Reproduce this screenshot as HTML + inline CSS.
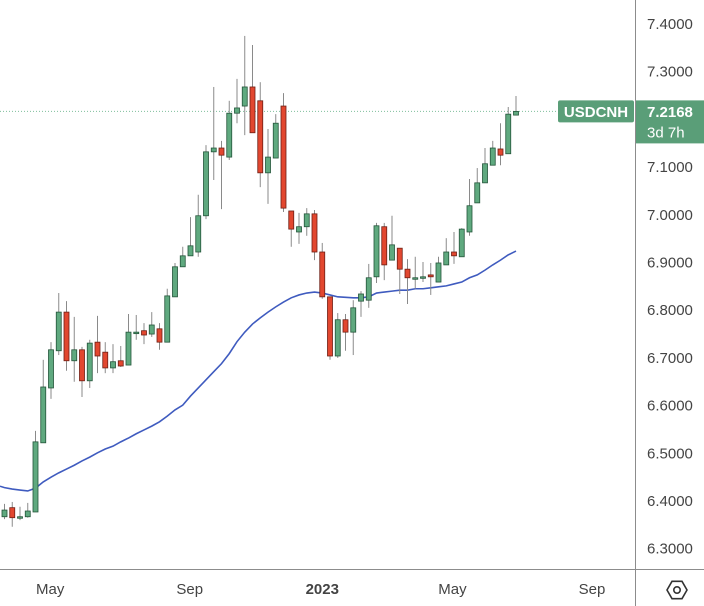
<!DOCTYPE html>
<html><head><meta charset="utf-8"><style>
html,body{margin:0;padding:0;background:#fff;}
svg{display:block;font-family:"Liberation Sans",sans-serif;}
</style></head><body>
<svg id="chart" width="704" height="606" viewBox="0 0 704 606" xmlns="http://www.w3.org/2000/svg">
<rect x="0" y="0" width="704" height="606" fill="#fff"/>
<g id="plot"></g>
<g id="yaxis"></g>
<g id="xaxis"></g>
</svg>
<script>
const opens  = [6.367,6.386,6.365,6.367,6.377,6.522,6.637,6.715,6.796,6.694,6.717,6.652,6.733,6.712,6.679,6.694,6.685,6.752,6.757,6.750,6.761,6.733,6.828,6.891,6.914,6.922,6.998,7.132,7.140,7.121,7.213,7.228,7.268,7.239,7.088,7.119,7.228,7.008,6.964,6.975,7.002,6.922,6.828,6.704,6.780,6.754,6.819,6.821,6.870,6.975,6.905,6.930,6.886,6.867,6.869,6.874,6.859,6.895,6.922,6.912,6.964,7.025,7.067,7.104,7.138,7.128,7.209];
const highs  = [6.394,6.398,6.388,6.396,6.547,6.696,6.733,6.836,6.819,6.786,6.723,6.738,6.788,6.733,6.729,6.725,6.792,6.790,6.773,6.796,6.773,6.845,6.899,6.933,6.995,7.042,7.146,7.268,7.155,7.239,7.285,7.375,7.356,7.278,7.180,7.211,7.255,7.008,7.004,7.014,7.010,6.941,6.828,6.794,6.792,6.821,6.840,6.897,6.983,6.983,6.998,6.930,6.907,6.912,6.901,6.899,6.912,6.951,6.964,6.972,7.075,7.098,7.140,7.155,7.192,7.226,7.249];
const lows   = [6.362,6.346,6.360,6.365,6.377,6.522,6.614,6.706,6.673,6.650,6.618,6.637,6.668,6.668,6.668,6.681,6.685,6.738,6.729,6.744,6.717,6.733,6.828,6.891,6.918,6.912,6.991,7.073,7.012,7.115,7.192,7.167,7.172,7.058,7.023,7.119,7.006,6.933,6.939,6.956,6.905,6.824,6.696,6.700,6.715,6.706,6.786,6.805,6.857,6.863,6.905,6.834,6.813,6.845,6.859,6.832,6.859,6.895,6.897,6.912,6.956,7.025,7.067,7.104,7.104,7.128,7.209];
const closes = [6.381,6.365,6.367,6.379,6.524,6.639,6.717,6.796,6.694,6.717,6.652,6.731,6.704,6.679,6.692,6.683,6.754,6.754,6.748,6.769,6.733,6.830,6.891,6.914,6.935,6.998,7.132,7.140,7.125,7.213,7.224,7.268,7.172,7.088,7.121,7.192,7.014,6.970,6.975,7.002,6.922,6.828,6.704,6.780,6.754,6.805,6.834,6.868,6.977,6.895,6.937,6.886,6.868,6.868,6.870,6.870,6.899,6.922,6.914,6.970,7.019,7.067,7.107,7.140,7.125,7.211,7.2168];
const maValues = [6.428,6.425,6.423,6.421,6.427,6.440,6.450,6.459,6.467,6.475,6.484,6.492,6.501,6.509,6.515,6.524,6.532,6.541,6.549,6.557,6.566,6.578,6.591,6.601,6.620,6.637,6.654,6.671,6.688,6.709,6.734,6.754,6.771,6.784,6.796,6.807,6.817,6.826,6.832,6.836,6.838,6.836,6.832,6.828,6.827,6.826,6.826,6.828,6.836,6.838,6.840,6.842,6.842,6.845,6.845,6.847,6.849,6.851,6.855,6.859,6.868,6.874,6.884,6.895,6.905,6.916,6.924];
const yTicks = [7.4,7.3,7.2,7.1,7.0,6.9,6.8,6.7,6.6,6.5,6.4,6.3];
const xLabels = ["May","Sep","2023","May","Sep"];
const xLabelIdx = [5.9,23.9,41,57.8,75.8];
const lastPrice = 7.2168;

const NS="http://www.w3.org/2000/svg";
function yScale(v){return 24+(7.4-v)*477;}
function xScale(i){return 4.5+7.75*i;}
function mk(tag,attrs,parent){const e=document.createElementNS(NS,tag);for(const k in attrs)e.setAttribute(k,attrs[k]);parent.appendChild(e);return e;}
const plot=document.getElementById('plot'),yax=document.getElementById('yaxis'),xax=document.getElementById('xaxis');

// last price dotted line
const pl=mk('line',{x1:0,x2:558,y1:yScale(lastPrice),y2:yScale(lastPrice),stroke:'#7fbf9c','stroke-width':1,'stroke-dasharray':'1,2'},plot);



// MA line
let d='';
maValues.forEach((v,i)=>{d+=(i?'L':'M')+xScale(i).toFixed(2)+','+yScale(v).toFixed(2);});
d='M0,'+yScale(6.431).toFixed(2)+'L'+d.slice(1);
const ma=mk('path',{d:d,fill:'none',stroke:'#3f5bbf','stroke-width':1.6},plot);



// candles
opens.forEach((o,i)=>{
  const c=closes[i],h=highs[i],l=lows[i];
  const up=c>=o;
  const x=xScale(i);
  const g=mk('g',{},plot);
  
  
  mk('line',{x1:x,x2:x,y1:yScale(h),y2:yScale(l),stroke:'#8a8a8a','stroke-width':1},g);
  const top=yScale(Math.max(o,c)),bot=yScale(Math.min(o,c));
  mk('rect',{x:x-2.5,y:top,width:5,height:Math.max(1.5,bot-top),fill:up?'#5fa97f':'#e2472f',stroke:up?'#24553a':'#6e1f14','stroke-width':0.8},g);
});

// axes lines
const al=mk('line',{x1:635.5,x2:635.5,y1:0,y2:606,stroke:'#8c8c8c','stroke-width':1},yax);


const bl=mk('line',{x1:0,x2:704,y1:569.5,y2:569.5,stroke:'#8c8c8c','stroke-width':1},xax);



yTicks.forEach(v=>{
  if(v===7.2)return;
  const t=mk('text',{x:647,y:yScale(v)+5,'font-size':15,fill:'#444'},yax);
  t.textContent=v.toFixed(4);
  
  
});

// symbol label & price box
const ly=yScale(lastPrice);
const sb=mk('rect',{x:558,y:ly-11,width:76,height:22,rx:2,fill:'#5a9e78'},yax);


const st=mk('text',{x:596,y:ly+5.5,'font-size':15,'font-weight':'bold',fill:'#fff','text-anchor':'middle'},yax);
st.textContent='USDCNH';


const pb=mk('rect',{x:636,y:ly-11,width:68,height:43,fill:'#5a9e78'},yax);


const pt=mk('text',{x:647,y:ly+5.5,'font-size':15,'font-weight':'bold',fill:'#fff'},yax);
pt.textContent=lastPrice.toFixed(4);


const ct=mk('text',{x:647,y:ly+26,'font-size':15,fill:'#fff'},yax);
ct.textContent='3d 7h';



xLabels.forEach((lab,i)=>{
  const t=mk('text',{x:xScale(xLabelIdx[i]),y:594,'font-size':15,fill:'#444','text-anchor':'middle','font-weight':lab==='2023'?'bold':'normal'},xax);
  t.textContent=lab;
  
  
});

// settings hexagon icon
const hg=mk('g',{},xax);


const cx=677,cy=590,r=10;let hp='';
for(let k=0;k<6;k++){const a=Math.PI/3*k;hp+=(k?'L':'M')+(cx+r*Math.cos(a)).toFixed(2)+','+(cy+r*Math.sin(a)).toFixed(2);}
mk('path',{d:hp+'Z',fill:'none',stroke:'#333','stroke-width':1.6},hg);
mk('circle',{cx:cx,cy:cy,r:3.2,fill:'none',stroke:'#333','stroke-width':1.6},hg);
</script>
</body></html>
